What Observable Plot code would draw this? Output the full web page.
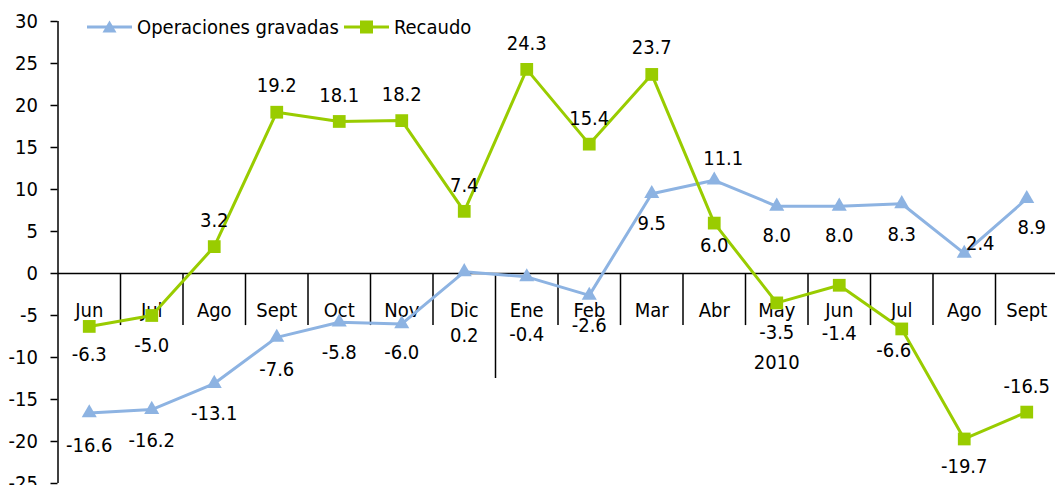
<!DOCTYPE html>
<html>
<head>
<meta charset="utf-8">
<script src="https://cdn.jsdelivr.net/npm/d3@7"></script>
<script src="https://cdn.jsdelivr.net/npm/@observablehq/plot@0.6"></script>
<style>
  body { margin: 0; background: #fff; font-family: "DejaVu Sans Condensed", "DejaVu Sans", sans-serif; }
  #wrap { position: relative; width: 1055px; height: 485px; overflow: hidden; }
  #legend { position: absolute; left: 87px; top: 15px; display: flex; align-items: center; font-size: 20px; line-height: 24px; color: #000; }
  #legend .item { display: flex; align-items: center; margin-right: 5px; }
  #legend svg { margin-right: 5px; display: block; }
</style>
</head>
<body>
<div id="wrap"><div id="legend"></div></div>
<script>
// ---- data ----
const months = ["Jun","Jul","Ago","Sept","Oct","Nov","Dic","Ene","Feb","Mar","Abr","May","Jun","Jul","Ago","Sept"];
const operaciones = [-16.6,-16.2,-13.1,-7.6,-5.8,-6.0,0.2,-0.4,-2.6,9.5,11.1,8.0,8.0,8.3,2.4,8.9];
const recaudo = [-6.3,-5.0,3.2,19.2,18.1,18.2,7.4,24.3,15.4,23.7,6.0,-3.5,-1.4,-6.6,-19.7,-16.5];
const yTicks = [-25,-20,-15,-10,-5,0,5,10,15,20,25,30];
const seriesNames = ["Operaciones gravadas","Recaudo"];
const yearLabel = "2010";
const yearLabelIndex = 11;   // category under which the year label sits
const yearBreakIndex = 7;    // first category of the new year (Ene)

// ---- label placement (style config) ----
const opDx = [0,0,0,0,0,0,0,0,0,0,9,0,0,0,16,5];
const opDy = [33,31,30,32,30,29,64,58,30,30,-22,29,29,31,-10,29];
const reDx = [0,0,0,0,0,0,0,0,0,0,0,0,0,-8,0,0];
const reDy = [28,30,-26,-27,-26,-26,-26,-26,-26,-27,22,30,48,22,28,-26];

const FONT = "'DejaVu Sans Condensed', 'DejaVu Sans', sans-serif";
const FS = 20;
const blue = "#8db3e2";
const green = "#99cc00";

const idx = d3.range(months.length);
const seps = idx.slice(1).map(i => i - 0.5);
const shortSeps = seps.filter(s => s !== yearBreakIndex - 0.5);
const longSeps = seps.filter(s => s === yearBreakIndex - 0.5);
const fmt = v => v.toFixed(1);

const labelMarks = (vals, dxs, dys) => idx.map(i =>
  Plot.text([i], {x: d => d, y: d => vals[d], text: d => fmt(vals[d]),
    dx: dxs[i], dy: dys[i], fontSize: FS, fill: "black"}));

const chart = Plot.plot({
  width: 1055,
  height: 485,
  marginLeft: 57.5,
  marginRight: 0,
  marginTop: 21,
  marginBottom: 2,
  style: {fontFamily: FONT, fontSize: FS + "px", color: "black", background: "white", overflow: "visible"},
  x: {type: "linear", domain: [-0.5, months.length - 0.5], range: [57.5, 1057.5], axis: null},
  y: {domain: [-25, 30], axis: null},
  marks: [
    Plot.axisY({ticks: yTicks, tickSize: 7, tickPadding: 13, tickFormat: d => String(d), fontSize: FS, stroke: "black", strokeWidth: 1.5, fill: "black"}),
    Plot.ruleX([-0.5], {stroke: "black", strokeWidth: 1.5}),
    Plot.ruleY([0], {stroke: "black", strokeWidth: 1.5}),
    Plot.ruleX(shortSeps, {y1: 0, y2: -6.2, stroke: "black", strokeWidth: 1.5}),
    Plot.ruleX(longSeps, {y1: 0, y2: -12.5, stroke: "black", strokeWidth: 1.5}),
    Plot.text(idx, {x: d => d, y: 0, text: d => months[d], dy: 37, fontSize: FS, fill: "black"}),
    Plot.text([yearLabel], {x: yearLabelIndex, y: 0, text: d => d, dy: 89, fontSize: FS, fill: "black"}),
    Plot.line(idx, {x: d => d, y: d => operaciones[d], stroke: blue, strokeWidth: 3}),
    Plot.dot(idx, {x: d => d, y: d => operaciones[d], symbol: "triangle", r: 5.6, fill: blue}),
    Plot.line(idx, {x: d => d, y: d => recaudo[d], stroke: green, strokeWidth: 3}),
    Plot.dot(idx, {x: d => d, y: d => recaudo[d], symbol: "square", r: 7.2, fill: green}),
    ...labelMarks(operaciones, opDx, opDy),
    ...labelMarks(recaudo, reDx, reDy)
  ]
});
document.getElementById("wrap").prepend(chart);

// ---- legend ----
const legend = document.getElementById("legend");
const glyphs = [
  `<svg width="45" height="16"><line x1="0" x2="45" y1="8" y2="8" stroke="${blue}" stroke-width="3"/><path d="M22.5,1.5 L29.5,13.5 L15.5,13.5 Z" fill="${blue}"/></svg>`,
  `<svg width="45" height="16"><line x1="0" x2="45" y1="8" y2="8" stroke="${green}" stroke-width="3"/><rect x="16" y="1.5" width="13" height="13" fill="${green}"/></svg>`
];
seriesNames.forEach((name, k) => {
  const item = document.createElement("div");
  item.className = "item";
  item.innerHTML = glyphs[k] + `<span>${name}</span>`;
  legend.appendChild(item);
});
</script>
</body>
</html>
